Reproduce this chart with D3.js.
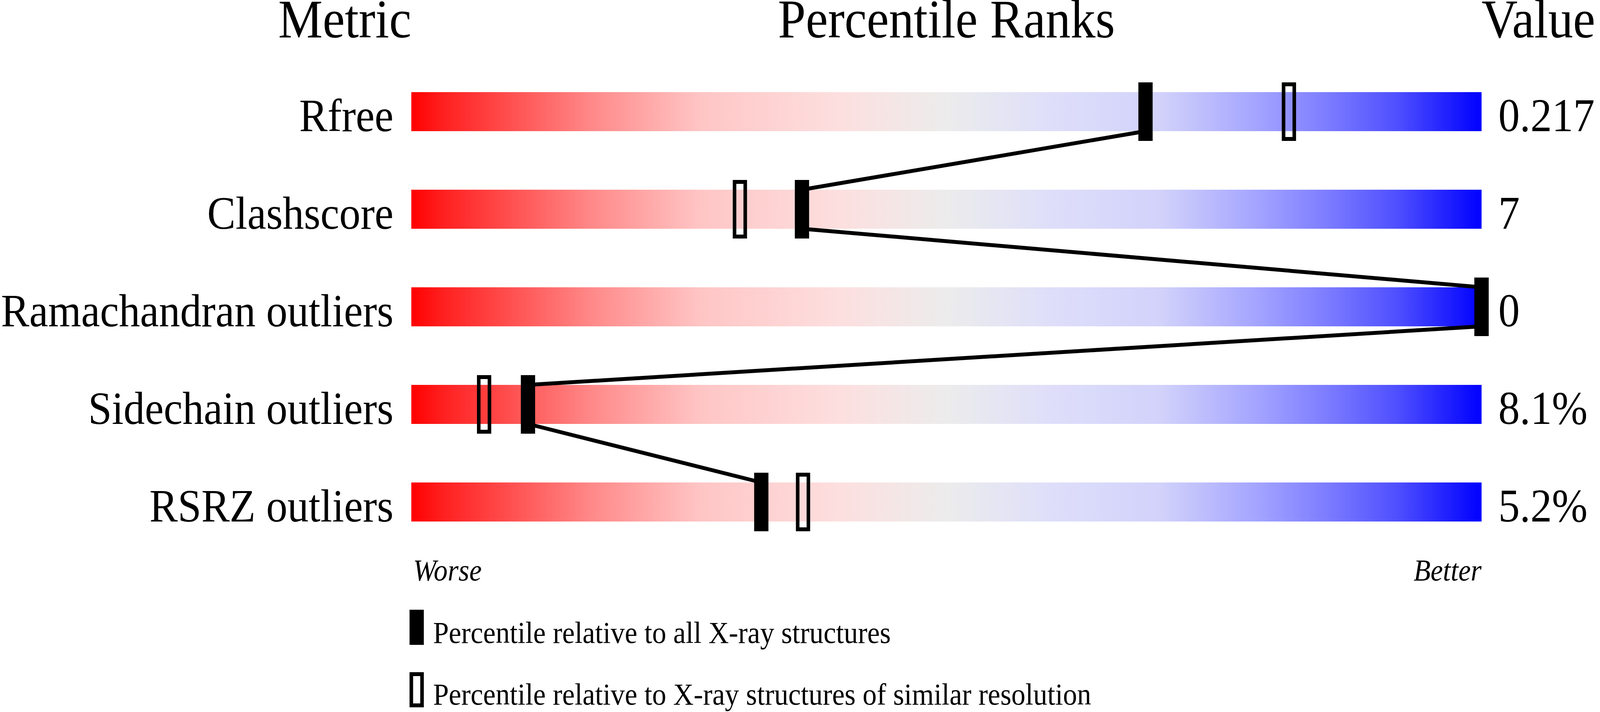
<!DOCTYPE html>
<html>
<head>
<meta charset="utf-8">
<script src="https://cdn.jsdelivr.net/npm/d3@7"></script>
<style>
    html, body { margin: 0; padding: 0; background: #ffffff; overflow: hidden; }
    svg { display: block; }
    text { font-family: "Liberation Serif", "Times New Roman", serif; fill: #000; }
</style>
</head>
<body>
<div id="chart_div"></div>
<script>
// Data
const metrics = ["Rfree", "Clashscore", "Ramachandran outliers", "Sidechain outliers", "RSRZ outliers"];
const pctAll = [68.6, 36.5, 100, 10.9, 32.7];       // percentile vs all X-ray structures
const pctSimilar = [82.0, 30.7, 100, 6.8, 36.6];    // percentile vs similar resolution
const values = ["0.217", "7", "0", "8.1%", "5.2%"];
const headers = ["Metric", "Percentile Ranks", "Value"];
const legendLabels = [
    "Percentile relative to all X-ray structures",
    "Percentile relative to X-ray structures of similar resolution"
];

// Gradient stops sampled along the slider (offset %, colour)
const gradientStops = [
    [0, "#ff0000"], [3, "#ff2020"], [17, "#ff8a8a"], [27, "#ffc5c5"],
    [40, "#fddfdf"], [50, "#ececec"], [60, "#dedefa"], [70, "#d2d2fb"],
    [79, "#a4a4ff"], [85, "#8080ff"], [92, "#5050ff"], [100, "#0000ff"]
];

const width = 4485;
const height = 1824;

// the window comes out narrower than 4485 css px, so draw in a
// 4485x1824 viewBox and let it fill the whole window
const svg = d3.select("#chart_div").append("svg")
    .attr("viewBox", `0 0 ${width} ${height}`)
    .attr("preserveAspectRatio", "none")
    .style("width", "100vw")
    .style("height", "100vh");

// Scales
const x = d3.scaleLinear().domain([0, 100]).range([1153, 4153]);
const y = d3.scaleBand().domain(metrics).range([161, 1411])
    .paddingInner(0.6).paddingOuter(0.3);
const barH = y.bandwidth();
const markW = 40, markH = 150;

// Gradient definition
const grad = svg.append("defs").append("linearGradient")
    .attr("id", "slider")
    .attr("gradientUnits", "userSpaceOnUse")
    .attr("x1", x(0)).attr("x2", x(100))
    .attr("y1", 0).attr("y2", 0);
grad.selectAll("stop")
    .data(gradientStops)
    .enter()
    .append("stop")
    .attr("offset", d => d[0] + "%")
    .attr("stop-color", d => d[1]);

/*----------------------
HEADERS
----------------------*/
svg.append("text").attr("x", x(0)).attr("y", 96)
    .attr("text-anchor", "end").attr("font-size", 140).text(headers[0]);
svg.append("text").attr("x", x(50)).attr("y", 96)
    .attr("text-anchor", "middle").attr("font-size", 140).text(headers[1]);
svg.append("text").attr("x", x(100)).attr("y", 96)
    .attr("text-anchor", "start").attr("font-size", 140).text(headers[2]);

/*----------------------
BARS + LABELS
----------------------*/
const rows = metrics.map((m, i) => ({ metric: m, all: pctAll[i], similar: pctSimilar[i], value: values[i] }));

svg.append("g").selectAll("rect")
    .data(rows)
    .enter()
    .append("rect")
    .attr("x", x(0))
    .attr("y", d => y(d.metric))
    .attr("width", x(100) - x(0))
    .attr("height", barH)
    .attr("fill", "url(#slider)");

svg.append("g").selectAll("text")
    .data(rows)
    .enter()
    .append("text")
    .attr("x", x(0) - 50)
    .attr("y", d => y(d.metric) + barH)
    .attr("text-anchor", "end")
    .attr("font-size", 119)
    .text(d => d.metric);

svg.append("g").selectAll("text")
    .data(rows)
    .enter()
    .append("text")
    .attr("x", x(100) + 47)
    .attr("y", d => y(d.metric) + barH)
    .attr("font-size", 120)
    .text(d => d.value);

/*----------------------
CONNECTING LINES (all X-ray percentiles)
----------------------*/
const links = d3.pairs(rows);
svg.append("g").selectAll("line")
    .data(links)
    .enter()
    .append("line")
    .attr("x1", d => x(d[0].all))
    .attr("y1", d => y(d[0].metric) + barH)
    .attr("x2", d => x(d[1].all))
    .attr("y2", d => y(d[1].metric))
    .attr("stroke", "#000")
    .attr("stroke-width", 10);

/*----------------------
MARKERS
----------------------*/
const offY = (markH - barH) / 2;

svg.append("g").selectAll("rect")
    .data(rows)
    .enter()
    .append("rect")
    .attr("x", d => x(d.similar) - markW / 2 + 5)
    .attr("y", d => y(d.metric) - offY + 5)
    .attr("width", markW - 10)
    .attr("height", markH - 10)
    .attr("fill", "none")
    .attr("stroke", "#000")
    .attr("stroke-width", 10);

svg.append("g").selectAll("rect")
    .data(rows)
    .enter()
    .append("rect")
    .attr("x", d => x(d.all) - markW / 2)
    .attr("y", d => y(d.metric) - offY)
    .attr("width", markW)
    .attr("height", markH)
    .attr("fill", "#000");

/*----------------------
WORSE / BETTER
----------------------*/
svg.append("text").attr("x", x(0) + 5).attr("y", 1487)
    .attr("font-size", 78).attr("font-style", "italic").text("Worse");
svg.append("text").attr("x", x(100)).attr("y", 1487)
    .attr("text-anchor", "end")
    .attr("font-size", 78).attr("font-style", "italic").text("Better");

/*----------------------
LEGEND
----------------------*/
const legend = svg.append("g");
legend.append("rect")
    .attr("x", 1148).attr("y", 1562)
    .attr("width", markW).attr("height", 90)
    .attr("fill", "#000");
legend.append("rect")
    .attr("x", 1153).attr("y", 1727)
    .attr("width", markW - 10).attr("height", 80)
    .attr("fill", "none").attr("stroke", "#000").attr("stroke-width", 10);
legend.selectAll("text")
    .data(legendLabels)
    .enter()
    .append("text")
    .attr("x", 1214)
    .attr("y", (d, i) => 1647 + i * 158)
    .attr("font-size", 79)
    .text(d => d);
</script>
</body>
</html>
